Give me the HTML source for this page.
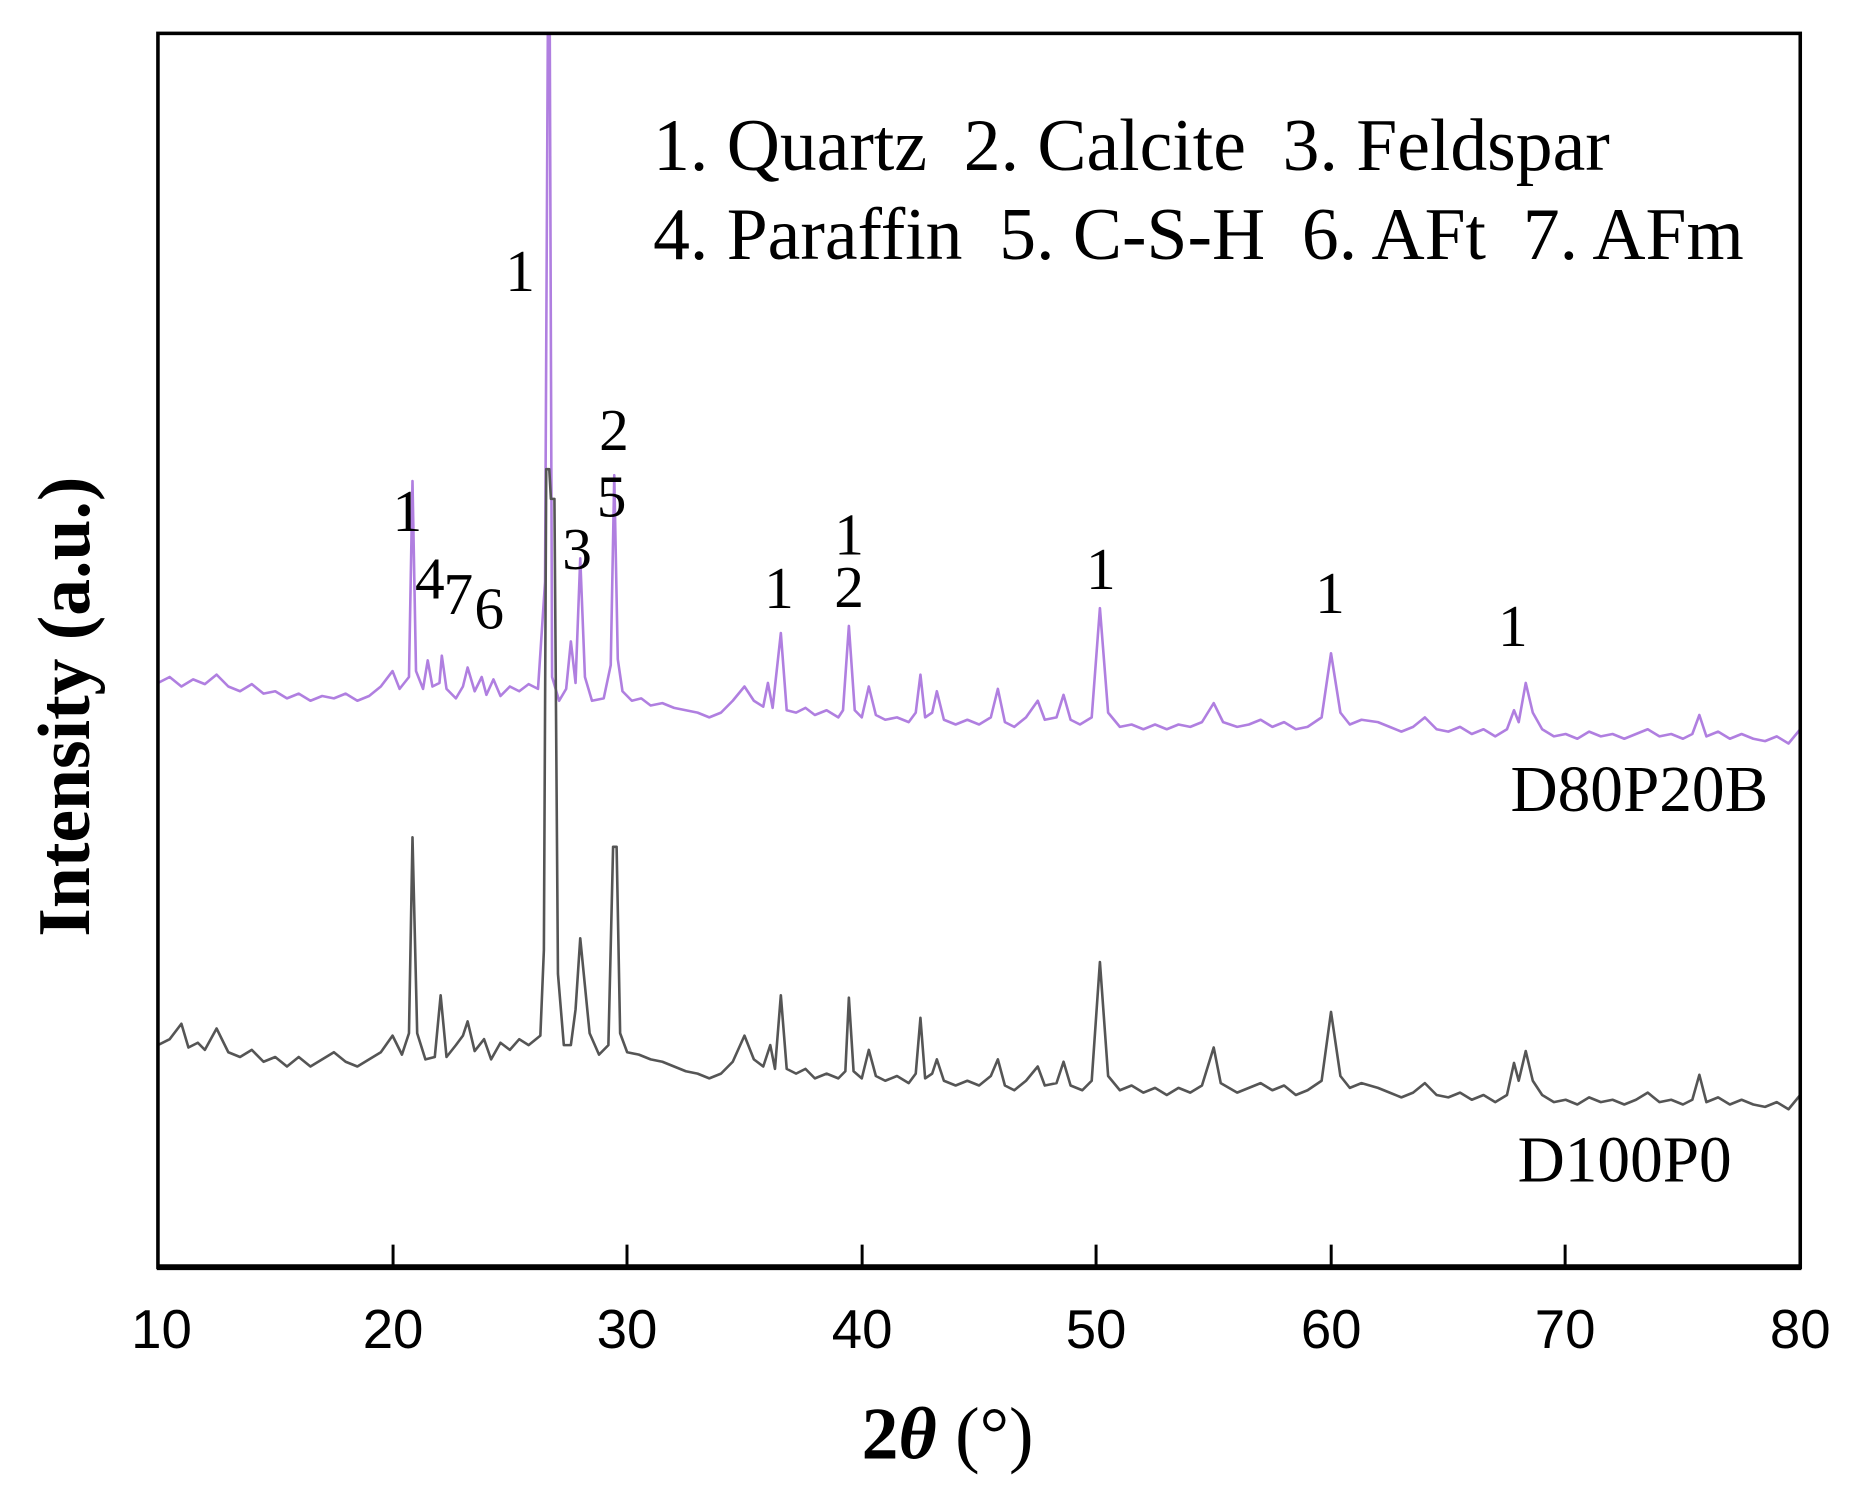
<!DOCTYPE html>
<html><head><meta charset="utf-8"><style>
html,body{margin:0;padding:0;background:#fff;}
svg{display:block;}
text{font-family:"Liberation Serif",serif;fill:#000;}
.t{font-family:"Liberation Sans",sans-serif;font-size:46px;}
</style></head><body>
<svg width="1862" height="1506" viewBox="0 0 1568 1268" xmlns="http://www.w3.org/2000/svg">
<defs><clipPath id="c"><rect x="133" y="28" width="1383" height="1039"/></clipPath></defs>
<g clip-path="url(#c)">
<g transform="translate(133,0) scale(19.757,1) translate(-10,0)">
<path vector-effect="non-scaling-stroke" fill="none" stroke="#b07fe0" stroke-width="2.6" stroke-linejoin="round" d="M10 575 L10.5 570 L11 578 L11.5 572 L12 576 L12.5 568 L13 578 L13.5 582 L14 576 L14.5 584 L15 582 L15.5 588 L16 584 L16.5 590 L17 586 L17.5 588 L18 584 L18.5 590 L19 586 L19.5 578 L20 565 L20.3 580 L20.7 570 L20.85 405 L21 565 L21.3 580 L21.5 556 L21.7 578 L22 575 L22.1 552 L22.3 580 L22.7 588 L23 578 L23.2 562 L23.5 582 L23.8 570 L24 585 L24.3 572 L24.6 586 L25 578 L25.4 582 L25.8 576 L26.2 580 L26.5 490 L26.62 20 L26.7 20 L26.8 570 L27.1 590 L27.4 580 L27.6 540 L27.8 575 L28.0 470 L28.2 570 L28.5 590 L29 588 L29.3 560 L29.45 400 L29.6 555 L29.8 582 L30.2 590 L30.6 588 L31 594 L31.5 592 L32 596 L32.5 598 L33 600 L33.5 604 L34 600 L34.5 590 L35 578 L35.4 590 L35.8 595 L36.0 575 L36.2 596 L36.55 533 L36.8 598 L37.2 600 L37.6 596 L38 602 L38.5 598 L39 604 L39.2 598 L39.45 527 L39.7 598 L40.0 604 L40.3 578 L40.6 602 L41 606 L41.5 604 L42 608 L42.3 600 L42.5 568 L42.7 604 L43 600 L43.2 582 L43.5 606 L44 610 L44.5 606 L45 610 L45.5 604 L45.8 580 L46.1 608 L46.5 612 L47 604 L47.5 590 L47.8 606 L48.3 604 L48.6 585 L48.9 606 L49.3 610 L49.8 604 L50.15 512 L50.5 600 L51 612 L51.5 610 L52 614 L52.5 610 L53 614 L53.5 610 L54 612 L54.5 608 L55 592 L55.4 608 L56 612 L56.5 610 L57 606 L57.5 612 L58 608 L58.5 614 L59 612 L59.6 604 L60 550 L60.4 600 L60.8 610 L61.3 606 L62 608 L62.5 612 L63 616 L63.5 612 L64 604 L64.5 614 L65 616 L65.5 612 L66 618 L66.5 614 L67 620 L67.5 614 L67.8 598 L68 608 L68.3 575 L68.6 600 L69 614 L69.5 620 L70 618 L70.5 622 L71 616 L71.5 620 L72 618 L72.5 622 L73 618 L73.5 614 L74 620 L74.5 618 L75 622 L75.4 618 L75.7 602 L76 620 L76.5 616 L77 622 L77.5 618 L78 622 L78.5 624 L79 620 L79.5 626 L80 614"/>
<path vector-effect="non-scaling-stroke" fill="none" stroke="#555" stroke-width="2.6" stroke-linejoin="round" d="M10 880 L10.5 875 L11 862 L11.3 882 L11.7 878 L12 884 L12.5 866 L13 886 L13.5 890 L14 884 L14.5 894 L15 890 L15.5 898 L16 890 L16.5 898 L17 892 L17.5 886 L18 894 L18.5 898 L19 892 L19.5 886 L20 872 L20.4 888 L20.7 870 L20.85 705 L21.05 870 L21.4 892 L21.8 890 L22.05 838 L22.3 890 L22.7 880 L23 872 L23.2 860 L23.5 885 L23.9 875 L24.2 892 L24.6 878 L25 884 L25.4 875 L25.8 880 L26.3 872 L26.45 800 L26.55 395 L26.68 395 L26.75 420 L26.9 420 L27.05 820 L27.3 880 L27.6 880 L27.8 850 L28.0 790 L28.2 830 L28.4 870 L28.8 888 L29.2 880 L29.4 713 L29.55 713 L29.7 870 L30 886 L30.5 888 L31 892 L31.5 894 L32 898 L32.5 902 L33 904 L33.5 908 L34 904 L34.5 894 L35 872 L35.4 892 L35.8 898 L36.1 880 L36.3 900 L36.55 838 L36.8 900 L37.2 904 L37.6 900 L38 908 L38.5 904 L39 908 L39.3 902 L39.45 840 L39.65 902 L40 908 L40.3 884 L40.6 906 L41 910 L41.5 906 L42 912 L42.3 904 L42.5 857 L42.7 908 L43 904 L43.2 892 L43.5 910 L44 914 L44.5 910 L45 914 L45.5 906 L45.8 892 L46.1 914 L46.5 918 L47 910 L47.5 898 L47.8 914 L48.3 912 L48.6 894 L48.9 914 L49.4 918 L49.8 910 L50.15 810 L50.5 906 L51 918 L51.5 914 L52 920 L52.5 916 L53 922 L53.5 916 L54 920 L54.5 914 L55 882 L55.3 912 L56 920 L56.5 916 L57 912 L57.5 918 L58 914 L58.5 922 L59 918 L59.6 910 L60 852 L60.4 906 L60.8 916 L61.3 912 L62 916 L62.5 920 L63 924 L63.5 920 L64 912 L64.5 922 L65 924 L65.5 920 L66 926 L66.5 922 L67 928 L67.5 922 L67.8 895 L68 910 L68.3 885 L68.6 910 L69 922 L69.5 928 L70 926 L70.5 930 L71 924 L71.5 928 L72 926 L72.5 930 L73 926 L73.5 920 L74 928 L74.5 926 L75 930 L75.4 926 L75.7 905 L76 928 L76.5 924 L77 930 L77.5 926 L78 930 L78.5 932 L79 928 L79.5 934 L80 922"/>
</g>
</g>
<rect x="133" y="28" width="1383" height="1039" fill="none" stroke="#000" stroke-width="3"/>
<line x1="132" y1="1067" x2="1517" y2="1067" stroke="#000" stroke-width="5"/>
<g stroke="#000" stroke-width="2.5">
<line x1="331" y1="1067" x2="331" y2="1048"/><line x1="528" y1="1067" x2="528" y2="1048"/>
<line x1="726" y1="1067" x2="726" y2="1048"/><line x1="923" y1="1067" x2="923" y2="1048"/>
<line x1="1121" y1="1067" x2="1121" y2="1048"/><line x1="1318" y1="1067" x2="1318" y2="1048"/>
</g>
<g text-anchor="middle">
<text class="t" x="136" y="1135">10</text><text class="t" x="331" y="1135">20</text>
<text class="t" x="528" y="1135">30</text><text class="t" x="726" y="1135">40</text>
<text class="t" x="923" y="1135">50</text><text class="t" x="1121" y="1135">60</text>
<text class="t" x="1318" y="1135">70</text><text class="t" x="1516" y="1135">80</text>
</g>
<text x="798" y="1228" text-anchor="middle" font-size="62" font-weight="bold">2<tspan font-style="italic">θ</tspan> <tspan font-weight="normal">(°)</tspan></text>
<text transform="translate(75,595) rotate(-90)" text-anchor="middle" font-size="62" font-weight="bold">Intensity (a.u.)</text>
<text x="550" y="143" font-size="62" xml:space="preserve">1. Quartz  2. Calcite  3. Feldspar</text>
<text x="550" y="218" font-size="62" xml:space="preserve">4. Paraffin  5. C-S-H  6. AFt  7. AFm</text>
<text x="1272" y="683" font-size="55">D80P20B</text>
<text x="1278" y="995" font-size="55">D100P0</text>
<g font-size="50" text-anchor="middle">
<text x="438" y="245">1</text><text x="343" y="447">1</text><text x="362" y="504">4</text>
<text x="386" y="517">7</text><text x="412" y="529">6</text><text x="486" y="479">3</text>
<text x="517" y="379">2</text><text x="515" y="435">5</text><text x="656" y="512">1</text>
<text x="715" y="467">1</text><text x="715" y="511">2</text><text x="927" y="496">1</text>
<text x="1120" y="516">1</text><text x="1274" y="544">1</text>
</g>
</svg>
</body></html>
